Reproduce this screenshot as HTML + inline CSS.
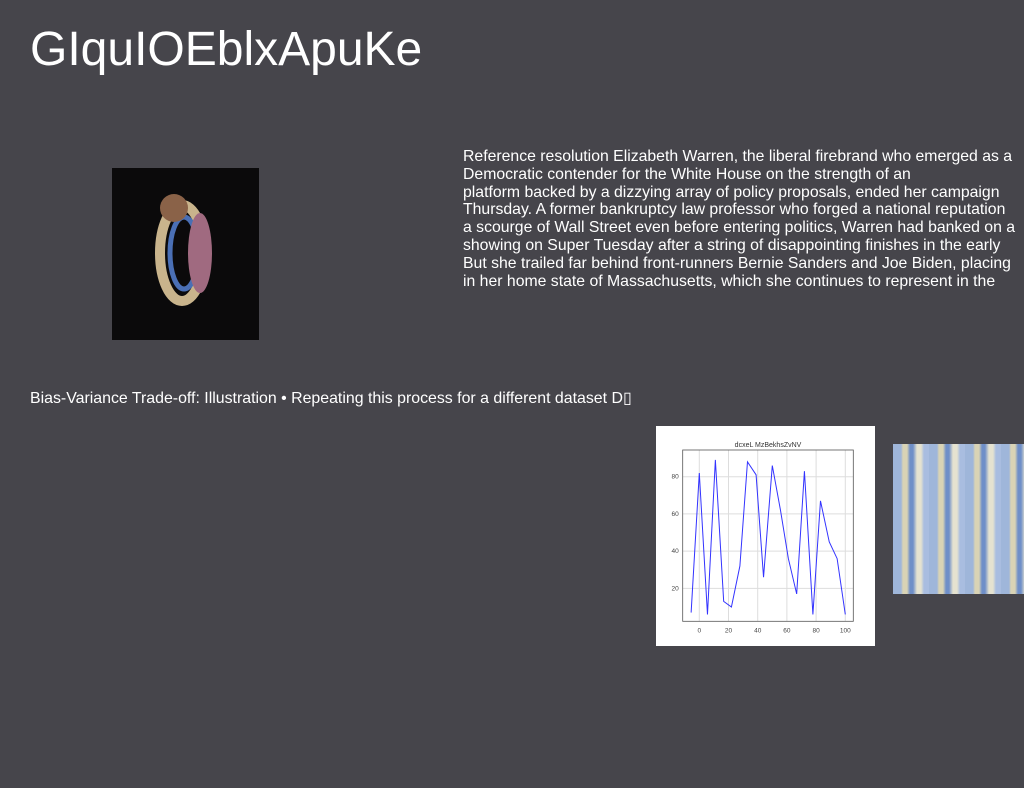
<!DOCTYPE html>
<html><head><meta charset="utf-8"><style>
html,body{margin:0;padding:0}
body{width:1024px;height:788px;background:#46454b;position:relative;overflow:hidden;font-family:"Liberation Sans",sans-serif;color:#fff}
#title{position:absolute;left:30px;top:22px;font-size:48px;line-height:56px;margin:0;font-weight:normal}
#para{position:absolute;left:463px;top:148px;font-size:15.8px;line-height:17.8px;white-space:nowrap;width:561px;overflow:hidden}
#caption{position:absolute;left:30px;top:390px;font-size:15.9px;line-height:18px;white-space:nowrap}
#img1{position:absolute;left:112px;top:168px;width:147px;height:172px;background:#0b0a0b}
#img2{position:absolute;left:893px;top:444px;width:131px;height:150px;background:repeating-linear-gradient(90deg,#9fb6da 0 8px,#d9d3b5 10px 14px,#6f8fc8 17px 20px,#e5e2d0 24px 28px,#a9bde0 31px 36px)}
#chart{position:absolute;left:656px;top:426px;width:219px;height:220px;background:#fff}
</style></head><body>
<h1 id="title">GIquIOEblxApuKe</h1>
<div id="img1">
<svg width="147" height="172"><ellipse cx="70" cy="85" rx="22" ry="48" fill="none" stroke="#c9b48c" stroke-width="10"/><ellipse cx="72" cy="85" rx="14" ry="36" fill="none" stroke="#4a6fb5" stroke-width="5"/><circle cx="62" cy="40" r="14" fill="#8a6248"/><ellipse cx="88" cy="85" rx="12" ry="40" fill="#a06a80"/></svg></div>
<div id="para">Reference resolution Elizabeth Warren, the liberal firebrand who emerged as a<br>Democratic contender for the White House on the strength of an<br>platform backed by a dizzying array of policy proposals, ended her campaign<br>Thursday. A former bankruptcy law professor who forged a national reputation<br>a scourge of Wall Street even before entering politics, Warren had banked on a<br>showing on Super Tuesday after a string of disappointing finishes in the early<br>But she trailed far behind front-runners Bernie Sanders and Joe Biden, placing<br>in her home state of Massachusetts, which she continues to represent in the</div>
<div id="caption">Bias-Variance Trade-off: Illustration • Repeating this process for a different dataset D&#9647;</div>
<div id="chart"><svg id="svg" width="219" height="220" font-family="Liberation Sans, sans-serif"></svg></div>
<div id="img2"></div>
<script>
const xValues=[-5.6,0,5.6,11,16.7,22,27.8,33,38.9,44,50,55.6,61,66.7,72,77.8,83,89,94.4,100];
const yValues=[7,82,6,89,13,10,32,88,81,26,86,62,36,17,83,6,67,45,36,6];
const xTicks=[0,20,40,60,80,100];
const yTicks=[20,40,60,80];
const chartTitle="dcxeL MzBekhsZvNV";
const NS="http://www.w3.org/2000/svg";
const svg=document.getElementById('svg');
const L=26.7,R=197.3,T=24,B=195.3;
const sx=v=>43.3+v*1.46;
const sy=v=>50.7+(80-v)*1.861;
function mk(t,a){const e=document.createElementNS(NS,t);for(const k in a)e.setAttribute(k,a[k]);svg.appendChild(e);return e;}
xTicks.forEach(v=>{
const g=mk('line',{x1:sx(v),x2:sx(v),y1:T,y2:B,stroke:'#ddd','stroke-width':1});


const t=mk('text',{x:sx(v),y:B+11,'font-size':6.5,'text-anchor':'middle',fill:'#444'});t.textContent=v;


});
yTicks.forEach(v=>{
const g=mk('line',{x1:L,x2:R,y1:sy(v),y2:sy(v),stroke:'#ddd','stroke-width':1});


const t=mk('text',{x:L-4,y:sy(v)+2,'font-size':6.5,'text-anchor':'end',fill:'#444'});t.textContent=v;


});
const f=mk('rect',{x:L,y:T,width:R-L,height:B-T,fill:'none',stroke:'#555','stroke-width':0.8});


const p=mk('polyline',{points:xValues.map((x,i)=>sx(x)+','+sy(yValues[i])).join(' '),fill:'none',stroke:'#3333ff','stroke-width':1});


const tt=mk('text',{x:(L+R)/2,y:T-3,'font-size':7,'text-anchor':'middle',fill:'#333'});tt.textContent=chartTitle;


</script>
</body></html>
